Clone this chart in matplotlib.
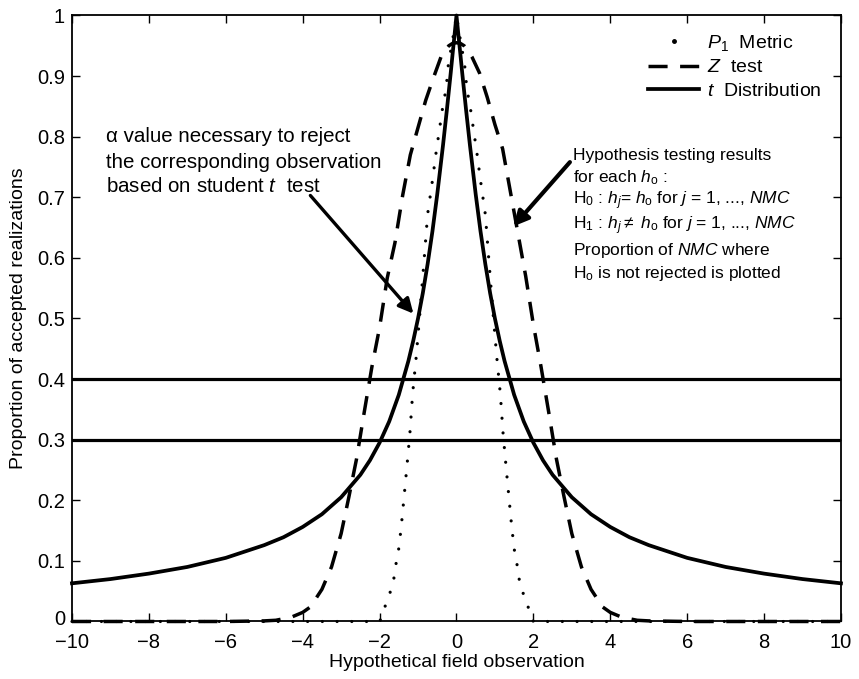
import numpy as np
import matplotlib
matplotlib.use("Agg")
import matplotlib.pyplot as plt
import matplotlib.transforms as mtransforms
from matplotlib.lines import Line2D

plt.rcParams['font.family'] = ['Liberation Sans', 'DejaVu Sans']
plt.rcParams['mathtext.fontset'] = 'custom'
plt.rcParams['mathtext.rm'] = 'Liberation Sans'
plt.rcParams['mathtext.it'] = 'Liberation Sans:italic'
plt.rcParams['mathtext.bf'] = 'Liberation Sans:bold'

# t distribution curve
t_x = [-10, -9, -8, -7, -6, -5, -4.5, -4, -3.5, -3, -2.5, -2.25, -2, -1.75, -1.5, -1.25,
       -1.125, -1, -0.875, -0.75, -0.625, -0.5, -0.35, -0.25, -0.15, -0.1, -0.05, 0,
       0.05, 0.1, 0.15, 0.25, 0.35, 0.5, 0.625, 0.75, 0.875, 1, 1.125, 1.25, 1.5, 1.75,
       2, 2.25, 2.5, 3, 3.5, 4, 4.5, 5, 6, 7, 8, 9, 10]
t_y = [0.063, 0.070, 0.079, 0.090, 0.105, 0.126, 0.139, 0.156, 0.177, 0.205, 0.242, 0.266,
       0.295, 0.330, 0.374, 0.430, 0.463, 0.500, 0.542, 0.590, 0.644, 0.705, 0.786, 0.844,
       0.905, 0.937, 0.968, 1.0,
       0.968, 0.937, 0.905, 0.844, 0.786, 0.705, 0.644, 0.590, 0.542, 0.500, 0.463, 0.430,
       0.374, 0.330, 0.295, 0.266, 0.242, 0.205, 0.177, 0.156, 0.139, 0.126, 0.105, 0.090,
       0.079, 0.070, 0.063]

# Z test curve
z_x = [-10, -6, -5, -4.7, -4.3, -4.0, -3.8, -3.5, -3.25, -3.0, -2.8, -2.6, -2.4, -2.2,
       -2.0, -1.8, -1.6, -1.4, -1.2, -1.0, -0.8, -0.6, -0.4, -0.3, -0.2, -0.1, 0,
       0.1, 0.2, 0.3, 0.4, 0.6, 0.8, 1.0, 1.2, 1.4, 1.6, 1.8, 2.0, 2.2, 2.4, 2.6, 2.8, 3.0,
       3.25, 3.5, 3.8, 4.0, 4.3, 4.7, 5, 6, 10]
z_y = [0, 0, 0.001, 0.002, 0.007, 0.015, 0.024, 0.053, 0.09, 0.145, 0.205, 0.268, 0.345,
       0.42, 0.485, 0.567, 0.625, 0.703, 0.77, 0.815, 0.86, 0.897, 0.932, 0.942, 0.95,
       0.954, 0.955,
       0.954, 0.95, 0.942, 0.932, 0.905, 0.865, 0.82, 0.78, 0.71, 0.64, 0.57, 0.49, 0.42,
       0.345, 0.268, 0.205, 0.145, 0.09, 0.053, 0.024, 0.015, 0.007, 0.002, 0.001, 0, 0]

# P1 metric curve
p_x = [-10, -2.0, -1.96, -1.875, -1.79, -1.7, -1.64, -1.57, -1.51, -1.44, -1.37, -1.29,
       -1.21, -1.14, -1.05, -0.95, -0.85, -0.75, -0.62, -0.53, -0.44, -0.36, -0.27,
       -0.21, -0.1, 0,
       0.1, 0.21, 0.27, 0.36, 0.44, 0.53, 0.62, 0.75, 0.85, 0.95, 1.05, 1.14, 1.21,
       1.29, 1.37, 1.44, 1.51, 1.57, 1.64, 1.7, 1.79, 1.875, 1.96, 2.0, 10]
p_y = [0, 0, 0.005, 0.022, 0.036, 0.053, 0.066, 0.096, 0.116, 0.154, 0.201, 0.255,
       0.312, 0.376, 0.435, 0.51, 0.59, 0.672, 0.73, 0.774, 0.813, 0.848, 0.879,
       0.92, 0.96, 1.0,
       0.96, 0.92, 0.879, 0.848, 0.813, 0.774, 0.73, 0.672, 0.59, 0.51, 0.435, 0.376,
       0.312, 0.255, 0.201, 0.154, 0.116, 0.096, 0.066, 0.053, 0.036, 0.022, 0.005, 0, 0]

h_lines = [0.3, 0.4]
x_ticks = np.arange(-10, 11, 2)
y_ticks = np.round(np.arange(0, 1.01, 0.1), 1)
y_labels = ['0'] + ['%.1f' % v for v in y_ticks[1:-1]] + ['1']

fig = plt.figure(figsize=(8.59, 6.79), dpi=100)
ax = fig.add_axes([0.0838, 0.0847, 0.8952, 0.8925])

ax.plot(p_x, p_y, color='black', lw=2.3, ls=(0, (0.01, 4.6)),
        dash_capstyle='round', clip_on=False, zorder=3)
ax.plot(z_x, z_y, color='black', lw=2.5, ls=(0, (5.5, 3.6)), clip_on=False, zorder=3)
ax.plot(t_x, t_y, color='black', lw=2.7, clip_on=False, zorder=3)
for h in h_lines:
    ax.axhline(h, color='black', lw=2.3)

ax.set_xlim(-10, 10)
ax.set_ylim(0, 1)
ax.set_xticks(x_ticks)
ax.set_yticks(y_ticks)
ax.set_yticklabels(y_labels)
ax.tick_params(direction='in', length=6, width=1, top=True, right=True, labelsize=14.5)
ax.tick_params(axis='x', pad=8)
ax.tick_params(axis='y', pad=5)
for s in ax.spines.values():
    s.set_linewidth(1.3)

# nudge the y "0" label up a little so it clears the "-10" label
lab0 = ax.get_yticklabels()[0]
lab0.set_transform(lab0.get_transform() +
                   mtransforms.ScaledTranslation(0, 3 / 72, fig.dpi_scale_trans))

ax.set_xlabel('Hypothetical field observation', fontsize=14, labelpad=2)
ax.set_ylabel('Proportion of accepted realizations', fontsize=14, labelpad=7)

# legend
handles = [Line2D([], [], ls='none', marker='.', markersize=5, color='black'),
           Line2D([], [], color='black', lw=2.5, ls=(0, (5.5, 3.6))),
           Line2D([], [], color='black', lw=2.7)]
labels = [r'$P_1$  Metric', r'$Z$  test', r'$t$  Distribution']
ax.legend(handles, labels, loc='upper right', bbox_to_anchor=(0.997, 1.0), frameon=False,
          fontsize=14, handlelength=2.6, handletextpad=0.4, labelspacing=0.3)

# left annotation
left_lines = ['α value necessary to reject',
              'the corresponding observation',
              r'based on student $t$  test']
left_y = [0.80, 0.758, 0.718]
for s, yy in zip(left_lines, left_y):
    ax.text(-9.12, yy, s, fontsize=14.8, va='center', ha='left')
ax.annotate('', xy=(-1.12, 0.508), xytext=(-3.8, 0.703),
            arrowprops=dict(arrowstyle='-|>', color='black', lw=2.4, mutation_scale=22,
                            shrinkA=0, shrinkB=0))

# right annotation
right_lines = ['Hypothesis testing results',
               r'for each $h_\mathrm{o}$ :',
               r'H$_0$ : $h_j$= $h_\mathrm{o}$ for $j$ = 1, ..., $NMC$',
               r'H$_1$ : $h_j$$\neq$ $h_\mathrm{o}$ for $j$ = 1, ..., $NMC$',
               r'Proportion of $NMC$ where',
               r'H$_\mathrm{o}$ is not rejected is plotted']
right_y = [0.769, 0.732, 0.694, 0.653, 0.612, 0.575]
for s, yy in zip(right_lines, right_y):
    ax.text(3.02, yy, s, fontsize=12.5, va='center', ha='left')
ax.annotate('', xy=(1.48, 0.652), xytext=(2.95, 0.758),
            arrowprops=dict(arrowstyle='-|>', color='black', lw=3.0, mutation_scale=22,
                            shrinkA=0, shrinkB=0))

fig.savefig('out.png', dpi=100)
